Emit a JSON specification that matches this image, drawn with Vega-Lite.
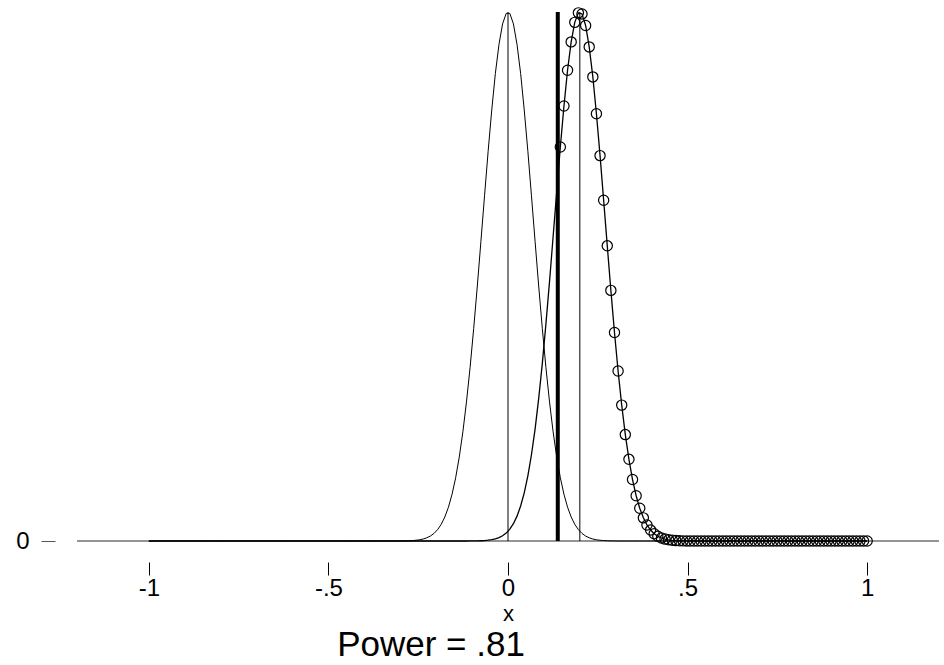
{
"$schema": "https://vega.github.io/schema/vega-lite/v6.json",
"width": 862, "height": 529,
"autosize": "none",
"padding": {"left": 77, "top": 12, "right": 5, "bottom": 124},
"background": "white",
"config": {"view": {"stroke": null}, "font": "Liberation Sans"},
"title": {"text": "Power = .81", "orient": "bottom", "anchor": "middle", "frame": "group", "dx": -77, "fontSize": 35, "fontWeight": "normal", "color": "black", "offset": 4, "font": "Liberation Sans"},
"datasets": {
"base": [{"y0": 0}],
"thin": [{"x": 0, "ymin": 0, "ymax": 5.6419}, {"x": 0.2, "ymin": 0, "ymax": 5.6419}],
"thick": [{"x": 0.1386, "ymin": 0, "ymax": 5.6419}],
"curves": [
{"x":-1.0,"h0":0,"h1":0},{"x":-0.9899,"h0":0,"h1":0},{"x":-0.9799,"h0":0,"h1":0},{"x":-0.9698,"h0":0,"h1":0},{"x":-0.9598,"h0":0,"h1":0},{"x":-0.9497,"h0":0,"h1":0},{"x":-0.9397,"h0":0,"h1":0},{"x":-0.9296,"h0":0,"h1":0},{"x":-0.9196,"h0":0,"h1":0},{"x":-0.9095,"h0":0,"h1":0},
{"x":-0.8995,"h0":0,"h1":0},{"x":-0.8894,"h0":0,"h1":0},{"x":-0.8794,"h0":0,"h1":0},{"x":-0.8693,"h0":0,"h1":0},{"x":-0.8593,"h0":0,"h1":0},{"x":-0.8492,"h0":0,"h1":0},{"x":-0.8392,"h0":0,"h1":0},{"x":-0.8291,"h0":0,"h1":0},{"x":-0.8191,"h0":0,"h1":0},{"x":-0.8090,"h0":0,"h1":0},
{"x":-0.7990,"h0":0,"h1":0},{"x":-0.7889,"h0":0,"h1":0},{"x":-0.7789,"h0":0,"h1":0},{"x":-0.7688,"h0":0,"h1":0},{"x":-0.7588,"h0":0,"h1":0},{"x":-0.7487,"h0":0,"h1":0},{"x":-0.7387,"h0":0,"h1":0},{"x":-0.7286,"h0":0,"h1":0},{"x":-0.7186,"h0":0,"h1":0},{"x":-0.7085,"h0":0,"h1":0},
{"x":-0.6985,"h0":0,"h1":0},{"x":-0.6884,"h0":0,"h1":0},{"x":-0.6784,"h0":0,"h1":0},{"x":-0.6683,"h0":0,"h1":0},{"x":-0.6583,"h0":0,"h1":0},{"x":-0.6482,"h0":0,"h1":0},{"x":-0.6382,"h0":0,"h1":0},{"x":-0.6281,"h0":0,"h1":0},{"x":-0.6181,"h0":0,"h1":0},{"x":-0.6080,"h0":0,"h1":0},
{"x":-0.5980,"h0":0,"h1":0},{"x":-0.5879,"h0":0,"h1":0},{"x":-0.5779,"h0":0,"h1":0},{"x":-0.5678,"h0":0,"h1":0},{"x":-0.5578,"h0":0,"h1":0},{"x":-0.5477,"h0":0,"h1":0},{"x":-0.5377,"h0":0,"h1":0},{"x":-0.5276,"h0":0,"h1":0},{"x":-0.5176,"h0":0,"h1":0},{"x":-0.5075,"h0":0,"h1":0},
{"x":-0.4975,"h0":0,"h1":0},{"x":-0.4874,"h0":0,"h1":0},{"x":-0.4774,"h0":0,"h1":0},{"x":-0.4673,"h0":0,"h1":0},{"x":-0.4573,"h0":0,"h1":0},{"x":-0.4472,"h0":0,"h1":0},{"x":-0.4372,"h0":0,"h1":0},{"x":-0.4271,"h0":0,"h1":0},{"x":-0.4171,"h0":0,"h1":0},{"x":-0.4070,"h0":0,"h1":0},
{"x":-0.3970,"h0":0,"h1":0},{"x":-0.3869,"h0":0,"h1":0},{"x":-0.3769,"h0":0,"h1":0},{"x":-0.3668,"h0":0,"h1":0},{"x":-0.3568,"h0":0,"h1":0},{"x":-0.3467,"h0":0,"h1":0},{"x":-0.3367,"h0":0,"h1":0},{"x":-0.3266,"h0":0,"h1":0},{"x":-0.3166,"h0":0,"h1":0},{"x":-0.3065,"h0":0,"h1":0},
{"x":-0.2965,"h0":0.0009,"h1":0},{"x":-0.2864,"h0":0.0015,"h1":0},{"x":-0.2764,"h0":0.0027,"h1":0},{"x":-0.2663,"h0":0.0047,"h1":0},{"x":-0.2563,"h0":0.0079,"h1":0},{"x":-0.2462,"h0":0.0131,"h1":0},{"x":-0.2362,"h0":0.0213,"h1":0},{"x":-0.2261,"h0":0.0339,"h1":0},{"x":-0.2161,"h0":0.0529,"h1":0},{"x":-0.2060,"h0":0.0809,"h1":0},
{"x":-0.1960,"h0":0.1212,"h1":0},{"x":-0.1859,"h0":0.1778,"h1":0},{"x":-0.1759,"h0":0.2559,"h1":0},{"x":-0.1658,"h0":0.3607,"h1":0},{"x":-0.1558,"h0":0.4984,"h1":0},{"x":-0.1457,"h0":0.6747,"h1":0},{"x":-0.1357,"h0":0.8952,"h1":0},{"x":-0.1256,"h0":1.1642,"h1":0},{"x":-0.1156,"h0":1.4835,"h1":0},{"x":-0.1055,"h0":1.8526,"h1":0.0005},
{"x":-0.0955,"h0":2.2674,"h1":0.0009},{"x":-0.0854,"h0":2.7195,"h1":0.0016},{"x":-0.0754,"h0":3.1965,"h1":0.0029},{"x":-0.0653,"h0":3.6820,"h1":0.0049},{"x":-0.0553,"h0":4.1565,"h1":0.0083},{"x":-0.0452,"h0":4.5983,"h1":0.0138},{"x":-0.0352,"h0":4.9852,"h1":0.0224},{"x":-0.0251,"h0":5.2967,"h1":0.0355},{"x":-0.0151,"h0":5.5151,"h1":0.0553},{"x":-0.0050,"h0":5.6277,"h1":0.0843},
{"x":0.0050,"h0":5.6277,"h1":0.1260},{"x":0.0151,"h0":5.5151,"h1":0.1846},{"x":0.0251,"h0":5.2967,"h1":0.2650},{"x":0.0352,"h0":4.9852,"h1":0.3729},{"x":0.0452,"h0":4.5983,"h1":0.5141},{"x":0.0553,"h0":4.1565,"h1":0.6947},{"x":0.0653,"h0":3.6820,"h1":0.9199},{"x":0.0754,"h0":3.1965,"h1":1.1938},{"x":0.0854,"h0":2.7195,"h1":1.5182},{"x":0.0955,"h0":2.2674,"h1":1.8922},
{"x":0.1055,"h0":1.8526,"h1":2.3111},{"x":0.1156,"h0":1.4835,"h1":2.7663},{"x":0.1256,"h0":1.1642,"h1":3.2450},{"x":0.1357,"h0":0.8952,"h1":3.7303},{"x":0.1457,"h0":0.6747,"h1":4.2025},{"x":0.1558,"h0":0.4984,"h1":4.6398},{"x":0.1658,"h0":0.3607,"h1":5.0202},{"x":0.1759,"h0":0.2559,"h1":5.3230},{"x":0.1859,"h0":0.1778,"h1":5.5313},{"x":0.1960,"h0":0.1212,"h1":5.6328},
{"x":0.2060,"h0":0.0809,"h1":5.6214},{"x":0.2161,"h0":0.0529,"h1":5.4979},{"x":0.2261,"h0":0.0339,"h1":5.2695},{"x":0.2362,"h0":0.0213,"h1":4.9496},{"x":0.2462,"h0":0.0131,"h1":4.5562},{"x":0.2563,"h0":0.0079,"h1":4.1102},{"x":0.2663,"h0":0.0047,"h1":3.6336},{"x":0.2764,"h0":0.0027,"h1":3.1481},{"x":0.2864,"h0":0.0015,"h1":2.6729},{"x":0.2965,"h0":0.0009,"h1":2.2241},
{"x":0.3065,"h0":0,"h1":1.8136},{"x":0.3166,"h0":0,"h1":1.4493},{"x":0.3266,"h0":0,"h1":1.1350},{"x":0.3367,"h0":0,"h1":0.8711},{"x":0.3467,"h0":0,"h1":0.6552},{"x":0.3568,"h0":0,"h1":0.4829},{"x":0.3668,"h0":0,"h1":0.3488},{"x":0.3769,"h0":0,"h1":0.2469},{"x":0.3869,"h0":0,"h1":0.1713},{"x":0.3970,"h0":0,"h1":0.1165},
{"x":0.4070,"h0":0,"h1":0.0776},{"x":0.4171,"h0":0,"h1":0.0507},{"x":0.4271,"h0":0,"h1":0.0324},{"x":0.4372,"h0":0,"h1":0.0203},{"x":0.4472,"h0":0,"h1":0.0125},{"x":0.4573,"h0":0,"h1":0.0075},{"x":0.4673,"h0":0,"h1":0.0044},{"x":0.4774,"h0":0,"h1":0.0026},{"x":0.4874,"h0":0,"h1":0.0015},{"x":0.4975,"h0":0,"h1":0.0008},
{"x":0.5075,"h0":0,"h1":0},{"x":0.5176,"h0":0,"h1":0},{"x":0.5276,"h0":0,"h1":0},{"x":0.5377,"h0":0,"h1":0},{"x":0.5477,"h0":0,"h1":0},{"x":0.5578,"h0":0,"h1":0},{"x":0.5678,"h0":0,"h1":0},{"x":0.5779,"h0":0,"h1":0},{"x":0.5879,"h0":0,"h1":0},{"x":0.5980,"h0":0,"h1":0},
{"x":0.6080,"h0":0,"h1":0},{"x":0.6181,"h0":0,"h1":0},{"x":0.6281,"h0":0,"h1":0},{"x":0.6382,"h0":0,"h1":0},{"x":0.6482,"h0":0,"h1":0},{"x":0.6583,"h0":0,"h1":0},{"x":0.6683,"h0":0,"h1":0},{"x":0.6784,"h0":0,"h1":0},{"x":0.6884,"h0":0,"h1":0},{"x":0.6985,"h0":0,"h1":0},
{"x":0.7085,"h0":0,"h1":0},{"x":0.7186,"h0":0,"h1":0},{"x":0.7286,"h0":0,"h1":0},{"x":0.7387,"h0":0,"h1":0},{"x":0.7487,"h0":0,"h1":0},{"x":0.7588,"h0":0,"h1":0},{"x":0.7688,"h0":0,"h1":0},{"x":0.7789,"h0":0,"h1":0},{"x":0.7889,"h0":0,"h1":0},{"x":0.7990,"h0":0,"h1":0},
{"x":0.8090,"h0":0,"h1":0},{"x":0.8191,"h0":0,"h1":0},{"x":0.8291,"h0":0,"h1":0},{"x":0.8392,"h0":0,"h1":0},{"x":0.8492,"h0":0,"h1":0},{"x":0.8593,"h0":0,"h1":0},{"x":0.8693,"h0":0,"h1":0},{"x":0.8794,"h0":0,"h1":0},{"x":0.8894,"h0":0,"h1":0},{"x":0.8995,"h0":0,"h1":0},
{"x":0.9095,"h0":0,"h1":0},{"x":0.9196,"h0":0,"h1":0},{"x":0.9296,"h0":0,"h1":0},{"x":0.9397,"h0":0,"h1":0},{"x":0.9497,"h0":0,"h1":0},{"x":0.9598,"h0":0,"h1":0},{"x":0.9698,"h0":0,"h1":0},{"x":0.9799,"h0":0,"h1":0},{"x":0.9899,"h0":0,"h1":0},{"x":1.0,"h0":0,"h1":0}
]},
"layer": [
{"data": {"name": "base"}, "mark": {"type": "rule", "color": "#707070", "strokeWidth": 1.5},
 "encoding": {"y": {"field": "y0", "type": "quantitative", "scale": {"domain": [0, 5.6419], "nice": false, "zero": false}, "title": null,
   "axis": {"values": [0], "format": "d", "domain": false, "grid": false, "offset": 22, "tickSize": 14, "tickColor": "#555555", "tickWidth": 1, "labelFontSize": 24, "labelColor": "black", "labelPadding": 12, "labelFont": "Liberation Sans"}}}},
{"data": {"name": "curves"}, "mark": {"type": "line", "color": "black", "strokeWidth": 1},
 "encoding": {
  "x": {"field": "x", "type": "quantitative", "scale": {"domain": [-1.2, 1.2], "nice": false, "zero": false}, "title": "x",
   "axis": {"values": [-1, -0.5, 0, 0.5, 1], "labelExpr": "datum.value == 0 ? '0' : replace(toString(datum.value), '0.', '.')", "domain": false, "grid": false, "offset": 21, "tickSize": 13, "tickColor": "black", "tickWidth": 1, "labelFontSize": 24, "labelColor": "black", "labelPadding": 1, "labelFont": "Liberation Sans", "titleFont": "Liberation Sans", "titleFontSize": 22, "titleFontWeight": "normal", "titleColor": "black", "titlePadding": 3}},
  "y": {"field": "h0", "type": "quantitative", "title": null}}},
{"data": {"name": "curves"}, "mark": {"type": "line", "color": "black", "strokeWidth": 1.3},
 "encoding": {"x": {"field": "x", "type": "quantitative"}, "y": {"field": "h1", "type": "quantitative", "title": null}}},
{"data": {"name": "thin"}, "mark": {"type": "rule", "color": "black", "strokeWidth": 1},
 "encoding": {"x": {"field": "x", "type": "quantitative"}, "y": {"field": "ymin", "type": "quantitative", "title": null}, "y2": {"field": "ymax"}}},
{"data": {"name": "thick"}, "mark": {"type": "rule", "color": "black", "strokeWidth": 4},
 "encoding": {"x": {"field": "x", "type": "quantitative"}, "y": {"field": "ymin", "type": "quantitative", "title": null}, "y2": {"field": "ymax"}}},
{"data": {"name": "curves"}, "transform": [{"filter": "datum.x > 0.1386"}],
 "mark": {"type": "point", "shape": "circle", "filled": false, "color": "black", "opacity": 1, "strokeWidth": 1.2, "size": 105, "clip": false},
 "encoding": {"x": {"field": "x", "type": "quantitative"}, "y": {"field": "h1", "type": "quantitative", "title": null}}}
]
}
